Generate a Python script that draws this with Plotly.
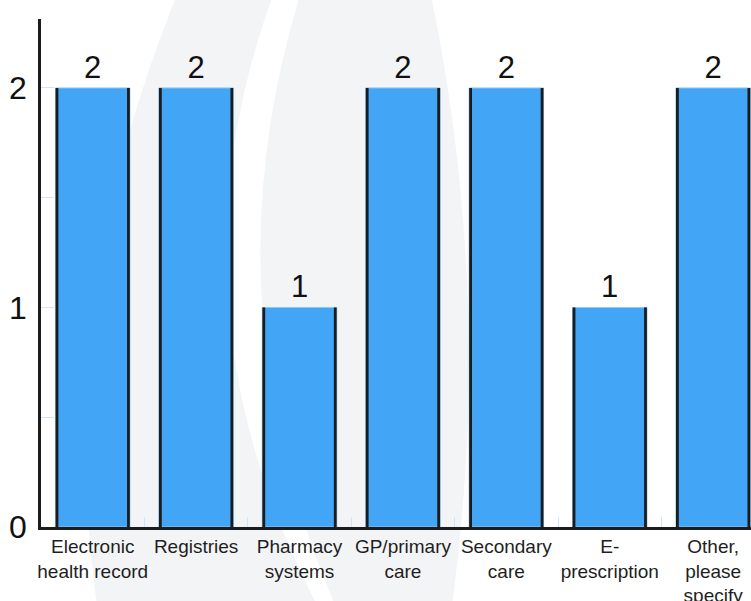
import plotly.graph_objects as go

# Data
categories = [
    "Electronic<br>health record",
    "Registries",
    "Pharmacy<br>systems",
    "GP/primary<br>care",
    "Secondary<br>care",
    "E-<br>prescription",
    "Other,<br>please<br>specify",
]
counts = [2, 2, 1, 2, 2, 1, 2]
y_tick_values = [0, 1, 2]
y_tick_labels = ["0", "1", "2"]

# Style
BAR_WIDTH = 0.72
BAR_BLUE = "#42A5F5"
BAR_TOP = "#8CC8F8"
INK = "#1c1c1c"
TICK_BLUE = "#cfe5fb"
WATERMARK = "#f3f4f6"
FONT = "Arial, Liberation Sans, Helvetica, sans-serif"

W, H = 751, 601
M_L, M_R, M_T, M_B = 41, 0, 19, 74
X_RANGE = [-0.5, 6.366]
Y_RANGE = [0, 2.314]

fig = go.Figure()

fig.add_bar(
    x=categories,
    y=counts,
    width=BAR_WIDTH,
    marker=dict(color=BAR_BLUE, line=dict(color=BAR_TOP, width=1)),
    text=counts,
    textposition="outside",
    textfont=dict(size=31, color="#111111", family=FONT),
    cliponaxis=False,
    hoverinfo="x+y",
    showlegend=False,
)

# Dark ink strokes down both sides of every bar
edge_x, edge_y = [], []
for i, v in enumerate(counts):
    for side in (-1, 1):
        xe = i + side * BAR_WIDTH / 2 * 0.96
        edge_x += [xe, xe, None]
        edge_y += [0, v, None]

fig.add_scatter(
    x=edge_x,
    y=edge_y,
    xaxis="x2",
    mode="lines",
    line=dict(color=INK, width=2.8),
    hoverinfo="skip",
    showlegend=False,
)


def to_paper(px, py):
    pw = W - M_L - M_R
    ph = H - M_T - M_B
    return (px - M_L) / pw, (H - M_B - py) / ph


def swoosh(points):
    (a, b, c, d, e, f) = [to_paper(*p) for p in points]
    return (
        f"M {a[0]:.4f},{a[1]:.4f} Q {b[0]:.4f},{b[1]:.4f} {c[0]:.4f},{c[1]:.4f} "
        f"L {d[0]:.4f},{d[1]:.4f} Q {e[0]:.4f},{e[1]:.4f} {f[0]:.4f},{f[1]:.4f} Z"
    )


# Faint background emblem (two curved bands)
emblem = [
    [(177, -5), (53, 298), (97, 605), (317, 605), (161, 302), (273, -5)],
    [(300, -5), (206, 302), (335, 605), (452, 605), (494, 302), (431, -5)],
]
shapes = [
    dict(
        type="path",
        xref="paper",
        yref="paper",
        path=swoosh(pts),
        fillcolor=WATERMARK,
        line=dict(width=0),
        layer="below",
    )
    for pts in emblem
]

fig.update_layout(
    width=W,
    height=H,
    margin=dict(l=M_L, r=M_R, t=M_T, b=M_B, pad=0, autoexpand=False),
    paper_bgcolor="white",
    plot_bgcolor="rgba(0,0,0,0)",
    font=dict(family=FONT, color="#222222"),
    shapes=shapes,
    xaxis=dict(
        type="category",
        range=X_RANGE,
        automargin=False,
        showline=True,
        linecolor=INK,
        linewidth=3,
        ticks="inside",
        tickson="boundaries",
        ticklen=10,
        tickwidth=1,
        tickcolor=TICK_BLUE,
        tickangle=0,
        tickfont=dict(size=19, color="#1e1e1e"),
        showgrid=False,
        zeroline=False,
        fixedrange=True,
    ),
    xaxis2=dict(
        overlaying="x",
        anchor="y",
        range=X_RANGE,
        visible=False,
        fixedrange=True,
    ),
    yaxis=dict(
        range=Y_RANGE,
        automargin=False,
        tickmode="array",
        tickvals=y_tick_values,
        ticktext=y_tick_labels,
        showline=True,
        linecolor=INK,
        linewidth=2.6,
        ticks="inside",
        ticklen=13,
        tickwidth=1,
        tickcolor=TICK_BLUE,
        tickfont=dict(size=32, color="#111111"),
        ticklabelstandoff=5,
        minor=dict(
            tickmode="linear",
            tick0=0,
            dtick=0.5,
            ticks="inside",
            ticklen=13,
            tickwidth=1,
            tickcolor=TICK_BLUE,
        ),
        showgrid=False,
        zeroline=False,
        fixedrange=True,
    ),
)

fig.write_html("out.html")
